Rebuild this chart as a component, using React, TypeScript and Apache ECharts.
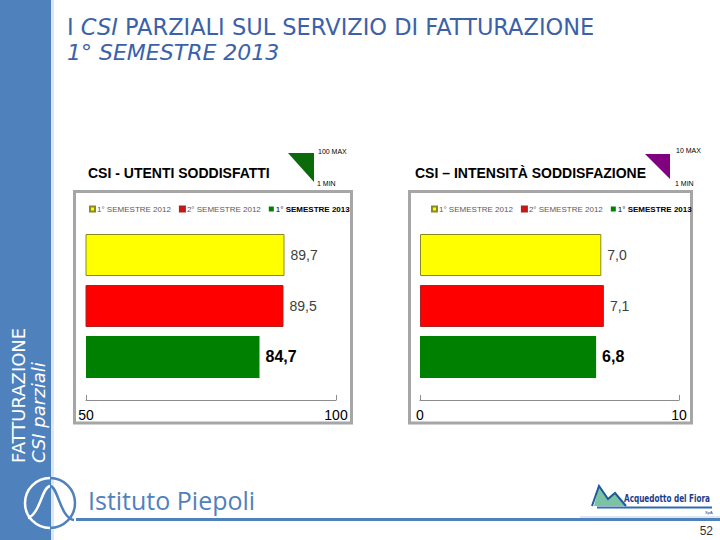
import React, { useEffect, useRef } from "react";
import * as echarts from "echarts";

const categories = ["CSI"];
const seriesNames = ["1° SEMESTRE 2012", "2° SEMESTRE 2012", "1° SEMESTRE 2013"];
const utentiSoddisfatti = [89.7, 89.5, 84.7];
const intensitaSoddisfazione = [7.0, 7.1, 6.8];
const utentiRange = [50, 100];
const intensitaRange = [0, 10];
const barColors = ["#ffff00", "#ff0000", "#008000"];
const barBorders = ["#8a8a20", "#b02020", "#008000"];

const BLUE = "#4f81bd";

function fmt(v: number) {
  return v.toFixed(1).replace(".", ",");
}

function makeSeries(values: number[], gridIdx: number) {
  return values.map((v, i) => ({
    name: seriesNames[i],
    type: "bar",
    xAxisIndex: gridIdx,
    yAxisIndex: gridIdx,
    barWidth: 42,
    barGap: "21.4%",
    data: [v],
    itemStyle: {
      color: barColors[i],
      borderColor: barBorders[i],
      borderWidth: i === 2 ? 0 : 1,
    },
    label: {
      show: true,
      position: "right",
      distance: 6,
      formatter: (p: any) => fmt(p.value),
      fontFamily: "Liberation Sans, Arial, sans-serif",
      fontSize: i === 2 ? 16 : 14,
      fontWeight: i === 2 ? "bold" : "normal",
      color: i === 2 ? "#000000" : "#404040",
    },
  }));
}

function valueAxis(gridIndex: number, range: number[]) {
  return {
    type: "value",
    gridIndex,
    min: range[0],
    max: range[1],
    interval: range[1] - range[0],
    position: "bottom",
    offset: 22,
    axisLine: { show: true, lineStyle: { color: "#8c8c8c", width: 1 } },
    axisTick: { show: true, inside: true, length: 5, lineStyle: { color: "#8c8c8c" } },
    axisLabel: {
      margin: 8,
      fontSize: 14,
      color: "#000000",
      fontFamily: "Liberation Sans, Arial, sans-serif",
    },
    splitLine: { show: false },
  };
}

function catAxis(gridIndex: number) {
  return {
    type: "category",
    gridIndex,
    data: categories,
    inverse: true,
    axisLine: { show: false },
    axisTick: { show: false },
    axisLabel: { show: false },
  };
}

function legend(left: number) {
  return {
    left,
    top: 200,
    itemWidth: 5,
    itemHeight: 5,
    itemGap: 8,
    icon: "rect",
    data: seriesNames,
    textStyle: {
      fontSize: 8,
      color: "#595959",
      fontFamily: "Liberation Sans, Arial, sans-serif",
      padding: [0, 0, 0, -3],
      rich: {
        b: { fontSize: 8, fontWeight: "bold", color: "#000000", fontFamily: "Liberation Sans, Arial, sans-serif" },
        n: { fontSize: 8, color: "#000000", fontFamily: "Liberation Sans, Arial, sans-serif" },
      },
    },
    formatter: (name: string) =>
      name === seriesNames[2] ? "{n|1°} {b|SEMESTRE 2013}" : name,
  };
}

export default function App() {
  const ref = useRef<HTMLDivElement>(null);
  useEffect(() => {
    if (!ref.current) return;
    const chart = echarts.init(ref.current, null, { renderer: "svg" });
    const sansFont = "Liberation Sans, Arial, sans-serif";
    const option: any = {
      animation: false,
      backgroundColor: "#ffffff",
      grid: [
        { left: 86, top: 234, width: 250, height: 144 },
        { left: 420, top: 234, width: 259, height: 144 },
      ],
      xAxis: [valueAxis(0, utentiRange), valueAxis(1, intensitaRange)],
      yAxis: [catAxis(0), catAxis(1)],
      legend: [legend(84), legend(426)],
      series: [...makeSeries(utentiSoddisfatti, 0), ...makeSeries(intensitaSoddisfazione, 1)],
      graphic: [
        // left blue strip
        { type: "rect", shape: { x: 0, y: 0, width: 51, height: 540 }, style: { fill: BLUE }, z: 0 },
        { type: "rect", shape: { x: 51, y: 0, width: 3, height: 540 }, style: { fill: "#dde7f3" }, z: 0 },
        {
          type: "text",
          x: 18.5,
          y: 463,
          rotation: Math.PI / 2,
          style: {
            text: "FATTURAZIONE",
            fill: "#ffffff",
            font: '18px "DejaVu Sans", sans-serif',
            textAlign: "left",
            textVerticalAlign: "middle",
          },
        },
        {
          type: "text",
          x: 38.5,
          y: 463,
          rotation: Math.PI / 2,
          style: {
            text: "CSI parziali",
            fill: "#ffffff",
            font: 'italic 18px "DejaVu Sans", sans-serif',
            textAlign: "left",
            textVerticalAlign: "middle",
          },
        },
        // page title
        {
          type: "text",
          x: 67,
          y: 27,
          style: {
            text: "I {i|CSI} PARZIALI SUL SERVIZIO DI FATTURAZIONE",
            fill: "#3b62a8",
            font: '22.5px "DejaVu Sans", sans-serif',
            textVerticalAlign: "middle",
            rich: {
              i: { fontStyle: "italic", fontSize: 22.5, fontFamily: "DejaVu Sans", fill: "#3b62a8" },
            },
          },
        },
        {
          type: "text",
          x: 67,
          y: 52,
          style: {
            text: "1° SEMESTRE 2013",
            fill: "#3b62a8",
            font: 'italic 22px "DejaVu Sans", sans-serif',
            textVerticalAlign: "middle",
          },
        },
        // panels
        {
          type: "rect",
          shape: { x: 74.5, y: 191.5, width: 277, height: 231.5 },
          style: { fill: "none", stroke: "#a6a6a6", lineWidth: 3 },
        },
        {
          type: "rect",
          shape: { x: 409.5, y: 191.5, width: 282, height: 231.5 },
          style: { fill: "none", stroke: "#a6a6a6", lineWidth: 3 },
        },
        // panel titles
        {
          type: "text",
          x: 88,
          y: 173,
          style: { text: "CSI - UTENTI SODDISFATTI", fill: "#000", font: "bold 14px " + sansFont, textVerticalAlign: "middle" },
        },
        {
          type: "text",
          x: 415,
          y: 173,
          style: { text: "CSI – INTENSITÀ SODDISFAZIONE", fill: "#000", font: "bold 14px " + sansFont, textVerticalAlign: "middle" },
        },
        // triangles
        { type: "polygon", shape: { points: [[288, 153], [314, 153], [314, 182]] }, style: { fill: "#0b6b0b" } },
        { type: "polygon", shape: { points: [[645, 154], [670, 154], [670, 179]] }, style: { fill: "#800080" } },
        { type: "text", x: 318, y: 151, style: { text: "100 MAX", fill: "#000", font: "7px " + sansFont, textVerticalAlign: "middle" } },
        { type: "text", x: 317, y: 183, style: { text: "1 MIN", fill: "#000", font: "7px " + sansFont, textVerticalAlign: "middle" } },
        { type: "text", x: 676, y: 150, style: { text: "10 MAX", fill: "#000", font: "7px " + sansFont, textVerticalAlign: "middle" } },
        { type: "text", x: 675, y: 183, style: { text: "1 MIN", fill: "#000", font: "7px " + sansFont, textVerticalAlign: "middle" } },
        // bottom line
        { type: "line", shape: { x1: 76, y1: 519.5, x2: 720, y2: 519.5 }, style: { stroke: BLUE, lineWidth: 3 } },
        { type: "line", shape: { x1: 580, y1: 517, x2: 720, y2: 517 }, style: { stroke: "#b9cde6", lineWidth: 1 } },
        // Piepoli logo
        { type: "arc", shape: { cx: 50, cy: 503, r: 25, startAngle: Math.PI / 2, endAngle: (3 * Math.PI) / 2 }, style: { stroke: "#ffffff", lineWidth: 2.5, fill: "none" } },
        { type: "arc", shape: { cx: 50, cy: 503, r: 25, startAngle: -Math.PI / 2, endAngle: Math.PI / 2 }, style: { stroke: BLUE, lineWidth: 2.5, fill: "none" } },
        {
          type: "bezierCurve",
          shape: { x1: 28, y1: 518, cpx1: 40, cpy1: 514, cpx2: 42, cpy2: 487, x2: 50, y2: 486 },
          style: { stroke: "#ffffff", lineWidth: 2.5, fill: "none" },
        },
        {
          type: "bezierCurve",
          shape: { x1: 50, y1: 486, cpx1: 58, cpy1: 486, cpx2: 60, cpy2: 518, x2: 74, y2: 520 },
          style: { stroke: BLUE, lineWidth: 2.5, fill: "none" },
        },
        {
          type: "text",
          x: 88,
          y: 500,
          style: { text: "Istituto Piepoli", fill: BLUE, font: '25px "Open Sans", sans-serif', textVerticalAlign: "middle" },
        },
        // Acquedotto logo
        {
          type: "polygon",
          shape: { points: [[594, 506], [599, 486], [608, 499], [615, 493], [626, 506]] },
          style: { fill: "#7cc3a6" },
        },
        {
          type: "polyline",
          shape: { points: [[592, 506], [599, 486], [608, 499], [615, 493], [626, 506]] },
          style: { stroke: "#1d5a9a", lineWidth: 2, fill: "none" },
        },
        { type: "line", shape: { x1: 597, y1: 507.5, x2: 712, y2: 507.5 }, style: { stroke: "#2f6bb0", lineWidth: 2 } },
        {
          type: "text",
          x: 624,
          y: 499,
          scaleX: 0.81,
          style: { text: "Acquedotto del Fiora", fill: "#1c3c8c", font: 'bold 10px "DejaVu Sans Condensed", "Liberation Sans Narrow", sans-serif', textVerticalAlign: "middle" },
        },
        { type: "text", x: 705, y: 512, style: { text: "SpA", fill: "#1c3c8c", font: "4px " + sansFont, textVerticalAlign: "middle" } },
        // page number
        { type: "text", x: 713, y: 531, style: { text: "52", fill: "#333333", font: "12px " + sansFont, textAlign: "right", textVerticalAlign: "middle" } },
      ],
    };
    chart.setOption(option);
    return () => chart.dispose();
  }, []);
  return (
    <div
      ref={ref}
      style={{ position: "fixed", left: 0, top: 0, width: 720, height: 540, background: "#fff" }}
    />
  );
}
